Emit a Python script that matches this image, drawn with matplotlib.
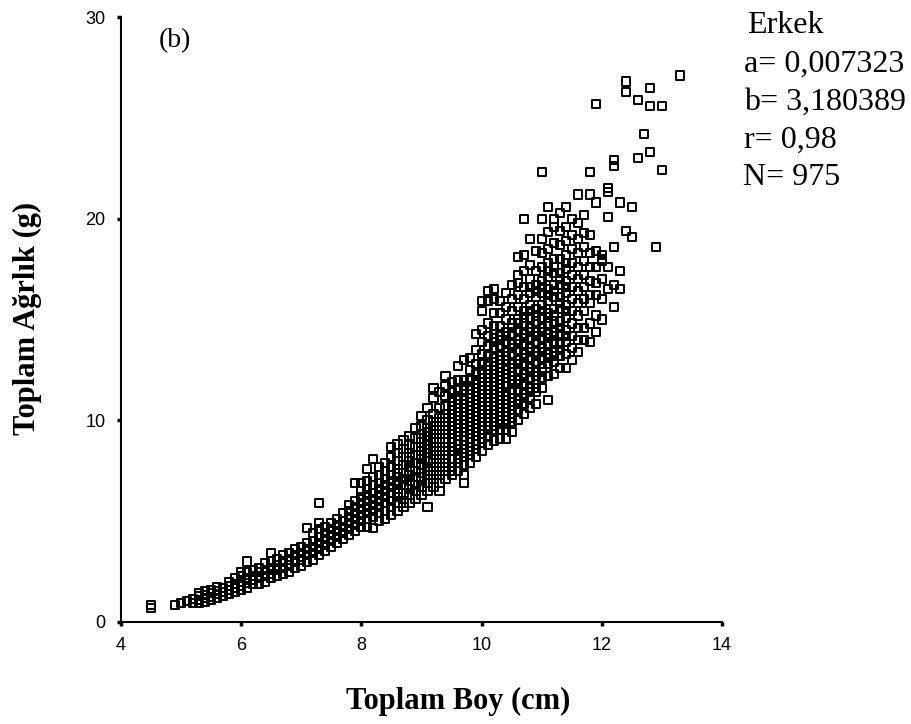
import matplotlib
matplotlib.use("Agg")
import matplotlib.pyplot as plt

# Total length (cm) -> total weight (g) readings, grouped by length class
small_fish = {
    4.5: [0.7, 0.85], 4.9: [0.85], 5.0: [0.95], 5.1: [1.05],
    5.2: [0.95, 1.15], 5.3: [0.95, 1.1, 1.3, 1.45], 5.4: [1.0, 1.2, 1.35, 1.55],
    5.5: [1.1, 1.25, 1.45, 1.6], 5.6: [1.2, 1.4, 1.55, 1.75], 5.7: [1.3, 1.5, 1.7],
    5.8: [1.4, 1.6, 1.8, 2.0], 5.9: [1.5, 1.7, 1.9, 2.2], 6.0: [1.6, 1.8, 2.0, 2.3, 2.5],
    6.1: [1.7, 1.95, 2.2, 2.5, 3.0], 6.2: [1.9, 2.1, 2.3, 2.6], 6.3: [1.9, 2.2, 2.5, 2.7],
    6.4: [2.0, 2.3, 2.6, 2.9], 6.5: [2.2, 2.4, 2.7, 3.0, 3.4], 6.6: [2.3, 2.6, 2.8, 3.1],
    6.7: [2.4, 2.7, 3.0, 3.3], 6.8: [2.5, 2.8, 3.1, 3.4], 6.9: [2.7, 3.0, 3.3, 3.6],
}

medium_fish = {
    7.0: [2.8, 3.1, 3.4, 3.7], 7.1: [3.0, 3.3, 3.6, 3.9, 4.65],
    7.2: [3.1, 3.4, 3.7, 4.0, 4.4], 7.3: [3.3, 3.6, 3.9, 4.2, 4.6, 4.9, 5.9],
    7.4: [3.5, 3.8, 4.1, 4.4, 4.7], 7.5: [3.7, 4.0, 4.3, 4.6, 4.9],
    7.6: [3.9, 4.2, 4.5, 4.8, 5.1], 7.7: [4.1, 4.4, 4.7, 5.0, 5.4],
    7.8: [4.3, 4.6, 4.9, 5.2, 5.5, 5.8], 7.9: [4.5, 4.8, 5.1, 5.4, 5.7, 6.0, 6.9],
    8.0: [4.7, 5.0, 5.3, 5.6, 5.9, 6.2, 6.5, 6.9],
    8.1: [4.7, 5.1, 5.4, 5.7, 6.0, 6.3, 6.6, 7.0, 7.6],
    8.2: [4.65, 5.2, 5.5, 5.8, 6.1, 6.4, 6.8, 7.2, 8.1],
    8.3: [5.0, 5.4, 5.7, 6.0, 6.3, 6.6, 6.9, 7.3, 7.7],
    8.4: [5.1, 5.5, 5.9, 6.2, 6.5, 6.8, 7.1, 7.5, 7.9],
    8.5: [5.3, 5.7, 6.0, 6.4, 6.7, 7.0, 7.3, 7.7, 8.2, 8.7],
    8.6: [5.5, 5.9, 6.2, 6.6, 6.9, 7.2, 7.6, 8.0, 8.4, 8.8],
    8.7: [5.7, 5.9, 6.4, 6.8, 7.1, 7.4, 7.8, 8.2, 8.6, 9.0],
    8.8: [5.9, 6.3, 6.6, 7.0, 7.3, 7.7, 8.0, 8.4, 8.8, 9.2],
    8.9: [6.1, 6.5, 6.8, 7.2, 7.5, 7.9, 8.3, 8.7, 9.1, 9.6],
    9.0: [6.3, 6.7, 7.0, 7.4, 7.8, 8.1, 8.5, 8.9, 9.3, 9.7, 10.2],
    9.1: [5.7, 6.5, 6.9, 7.3, 7.7, 8.0, 8.4, 8.8, 9.2, 9.6, 10.0, 10.6],
    9.2: [6.7, 7.1, 7.5, 7.9, 8.3, 8.7, 9.1, 9.5, 9.9, 10.3, 11.1, 11.6],
    9.3: [6.5, 6.9, 7.3, 7.7, 8.1, 8.5, 8.9, 9.3, 9.7, 10.1, 10.6, 11.4],
    9.4: [7.1, 7.5, 7.9, 8.3, 8.7, 9.1, 9.5, 9.9, 10.3, 10.7, 11.2, 11.7, 12.2],
    9.5: [7.3, 7.7, 8.1, 8.5, 8.9, 9.3, 9.7, 10.1, 10.5, 10.9, 11.4, 11.9],
    9.6: [7.5, 7.9, 8.3, 8.6, 9.0, 9.4, 9.8, 10.2, 10.6, 11.0, 11.5, 12.0, 12.7],
    9.7: [6.9, 7.3, 7.8, 8.2, 8.6, 9.0, 9.4, 9.8, 10.2, 10.6, 11.0, 11.5, 12.0, 13.0],
    9.8: [7.9, 8.3, 8.7, 9.1, 9.5, 9.9, 10.3, 10.7, 11.1, 11.5, 12.0, 12.5, 13.1],
    9.9: [8.2, 8.6, 9.0, 9.4, 9.8, 10.2, 10.6, 11.0, 11.4, 11.8, 12.3, 12.8, 13.5, 14.3],
}

large_fish = {
    10.0: [8.5, 8.9, 9.3, 9.5, 9.9, 10.3, 10.7, 11.1, 11.5, 11.9, 12.3, 12.8, 13.3,
           13.9, 14.5, 15.4, 15.9],
    10.1: [8.8, 9.2, 9.5, 9.9, 10.3, 10.7, 11.1, 11.5, 11.9, 12.3, 12.7, 13.2, 13.7,
           14.2, 14.8, 15.9, 16.4],
    10.2: [9.0, 9.5, 9.9, 10.3, 10.7, 11.1, 11.5, 11.9, 12.3, 12.7, 13.1, 13.6, 14.1,
           14.7, 15.3, 16.0, 16.5],
    10.3: [9.1, 9.5, 10.0, 10.4, 10.8, 11.2, 11.6, 12.0, 12.4, 12.8, 13.2, 13.7, 14.2,
           14.7, 15.3, 15.9],
    10.4: [9.1, 9.5, 10.0, 10.4, 10.8, 11.2, 11.7, 12.1, 12.5, 13.0, 13.4, 13.9, 14.4,
           15.0, 15.6, 16.3],
    10.5: [9.4, 9.9, 10.3, 10.7, 11.1, 11.5, 12.0, 12.4, 12.8, 13.3, 13.8, 14.3, 14.8,
           15.4, 16.0, 16.7],
    10.6: [10.0, 10.5, 11.0, 11.5, 12.0, 12.5, 13.0, 13.5, 14.0, 14.5, 15.0, 15.6, 16.2,
           16.8, 17.2, 18.1],
    10.7: [10.3, 10.8, 11.3, 11.8, 12.3, 12.8, 13.3, 13.8, 14.3, 14.8, 15.4, 16.0, 16.6,
           17.4, 18.2, 20.0],
    10.8: [10.6, 11.1, 11.6, 12.1, 12.6, 13.1, 13.6, 14.1, 14.6, 15.1, 15.7, 16.3, 17.0,
           17.7, 19.0],
    10.9: [10.8, 11.4, 11.6, 12.4, 12.9, 13.4, 13.9, 14.4, 14.9, 15.5, 16.1, 16.7, 17.4,
           18.4],
    11.0: [11.6, 12.1, 12.6, 13.1, 13.6, 14.1, 14.6, 15.1, 15.7, 16.3, 16.9, 17.6, 18.3,
           19.0, 20.0, 22.3],
    11.1: [11.0, 12.2, 12.8, 13.3, 13.8, 14.3, 14.8, 15.3, 15.9, 16.5, 17.1, 17.8, 18.5,
           19.35, 20.6],
    11.2: [12.3, 12.9, 13.4, 13.9, 14.4, 14.9, 15.5, 16.1, 16.7, 17.3, 18.0, 18.8, 19.6,
           20.0],
    11.3: [12.6, 13.2, 13.8, 14.3, 14.9, 15.5, 16.1, 16.7, 17.3, 18.0, 18.7, 19.4, 20.3],
    11.4: [12.6, 13.3, 13.9, 14.5, 15.1, 15.7, 16.3, 16.9, 17.5, 18.2, 18.9, 19.6, 20.6],
    11.5: [13.0, 13.6, 14.2, 14.8, 15.4, 16.0, 16.6, 17.2, 17.8, 18.5, 19.2, 20.0],
    11.6: [13.4, 14.0, 14.6, 15.2, 15.8, 16.4, 17.0, 17.6, 18.3, 19.0, 19.8, 21.2],
    11.7: [14.0, 14.6, 15.4, 16.0, 16.6, 17.2, 17.9, 18.6, 19.3, 20.2],
    11.8: [13.9, 14.8, 15.8, 16.2, 16.9, 17.6, 18.3, 19.2, 21.2, 22.3],
    11.9: [14.4, 15.2, 16.2, 16.8, 17.6, 18.4, 20.8, 25.7],
    12.0: [15.0, 16.0, 17.0, 17.9, 18.0, 18.2],
    12.1: [16.5, 17.6, 20.1, 21.3, 21.5],
    12.2: [15.6, 16.7, 18.6, 22.6, 22.9],
    12.3: [16.5, 17.4, 20.8],
    12.4: [19.4, 26.3, 26.8],
    12.5: [19.1, 20.6],
    12.6: [23.0, 25.9],
    12.7: [24.2],
    12.8: [23.3, 25.6, 26.5],
    12.9: [18.6],
    13.0: [22.4, 25.6],
    13.3: [27.1],
}

# Extra readings inside the densely packed core of the cloud
core_fish = {
    8.6: [6.4, 7.4], 8.8: [6.8, 7.5, 8.2], 9.0: [7.2, 8.3, 9.1],
    9.1: [7.5, 8.6, 9.4], 9.2: [7.3, 8.1, 8.9, 9.7], 9.3: [7.5, 8.3, 9.1, 9.9],
    9.4: [7.7, 8.5, 9.3, 10.1], 9.5: [7.5, 8.7, 9.5, 10.3, 11.1],
    9.6: [8.1, 8.8, 9.6, 10.4, 11.2], 9.7: [8.4, 9.2, 10.0, 10.8, 11.7],
    9.8: [8.5, 9.3, 10.1, 10.9, 11.7], 9.9: [8.8, 9.6, 10.4, 11.2, 12.0],
    10.0: [9.1, 10.1, 10.9, 11.7, 12.5], 10.1: [9.7, 10.5, 11.3, 12.1, 12.9],
    10.2: [9.7, 10.5, 11.3, 12.1, 12.9, 13.9], 10.3: [9.8, 10.6, 11.4, 12.2, 13.0, 14.0],
    10.4: [9.8, 10.6, 11.4, 12.3, 13.2, 14.2], 10.5: [10.1, 10.9, 11.8, 12.6, 13.6, 14.6],
    10.6: [10.8, 11.8, 12.8, 13.8, 14.8], 10.7: [11.1, 12.1, 13.1, 14.1, 15.1],
    10.8: [11.4, 12.4, 13.4, 14.4, 15.4, 16.6], 10.9: [12.2, 13.2, 14.2, 15.2, 16.4],
    11.0: [12.4, 13.4, 14.4, 15.4, 16.6], 11.1: [13.1, 14.1, 15.1, 16.2, 17.4],
    11.2: [13.2, 14.2, 15.2, 16.4, 17.6], 11.3: [13.5, 14.6, 15.8, 17.0],
    11.4: [14.2, 15.4, 16.6, 17.8],
}

x_ticks = [4, 6, 8, 10, 12, 14]
y_ticks = [0, 10, 20, 30]
panel_tag = "(b)"
stats_lines = ["Erkek", "a= 0,007323", "b= 3,180389", "r= 0,98", "N= 975"]

lengths, weights = [], []
for group in (small_fish, medium_fish, large_fish, core_fish):
    for L, ws in group.items():
        for w in ws:
            lengths.append(L)
            weights.append(w)

W, H = 911, 724
fig = plt.figure(figsize=(W / 100, H / 100), dpi=100)
ax = fig.add_axes([121 / W, (H - 622) / H, 601 / W, 605 / H])

ax.scatter(lengths, weights, s=34, marker="s", facecolors="none",
           edgecolors="black", linewidths=1.4, clip_on=False, zorder=3)

ax.set_xlim(4, 14)
ax.set_ylim(0, 30)
ax.set_xticks(x_ticks)
ax.set_yticks(y_ticks)
ax.set_xticklabels([str(t) for t in x_ticks])
ax.set_yticklabels([str(t) for t in y_ticks])
for s in ("top", "right"):
    ax.spines[s].set_visible(False)
for s in ("left", "bottom"):
    ax.spines[s].set_linewidth(1.5)
ax.tick_params(direction="out", length=3, width=2.5, pad=8,
               labelsize=13, labelfontfamily="Liberation Sans")

fig.text(458 / W, 1 - 701 / H, "Toplam Boy (cm)", ha="center", va="center",
         fontsize=22, fontweight="bold", family="Liberation Serif")
fig.text(27 / W, 1 - 318 / H, "Toplam Ağrlık (g)", ha="center", va="center",
         rotation=90, fontsize=22, fontweight="bold", family="Liberation Serif")
fig.text(175 / W, 1 - 41 / H, panel_tag, ha="center", va="center",
         fontsize=20, family="Liberation Serif")

baselines = [33, 72, 110, 148, 185]
lefts = [747, 744, 744, 744, 743]
for line, yb, xl in zip(stats_lines, baselines, lefts):
    fig.text(xl / W, 1 - yb / H, line, ha="left", va="baseline",
             fontsize=23, family="Liberation Serif")

fig.savefig("out.png", dpi=100)
